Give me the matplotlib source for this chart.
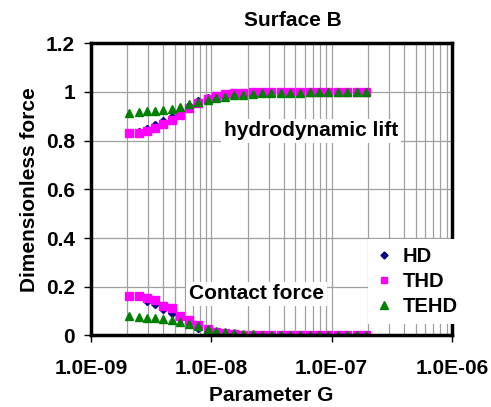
import matplotlib
matplotlib.use("Agg")
import matplotlib.pyplot as plt
from matplotlib.ticker import FuncFormatter, FixedLocator, LogLocator, NullFormatter

plt.rcParams['font.family'] = ['Liberation Sans', 'DejaVu Sans']
plt.rcParams['font.weight'] = 'bold'

# parameter G values
G = [2.08e-9, 2.52e-9, 2.94e-9, 3.39e-9, 4.00e-9, 4.69e-9, 5.50e-9, 6.54e-9, 7.81e-9,
     9.35e-9, 1.10e-8, 1.30e-8, 1.55e-8, 1.85e-8, 2.21e-8, 2.65e-8, 3.16e-8, 3.79e-8,
     4.52e-8, 5.48e-8, 6.55e-8, 7.84e-8, 9.37e-8, 1.13e-7, 1.34e-7, 1.62e-7, 1.94e-7]
x_ticks = [1e-9, 1e-8, 1e-7, 1e-6]

# hydrodynamic lift
hd_lift = [0.832, 0.836, 0.848, 0.862, 0.878, 0.896, 0.915, 0.940, 0.962, 0.975, 0.984,
           0.990, 0.993, 0.995, 0.997, 0.998, 0.999, 0.999, 1.0, 1.0, 1.0, 1.0, 1.0, 1.0,
           1.0, 1.0, 1.0]
thd_lift = [0.832, 0.832, 0.838, 0.850, 0.866, 0.886, 0.906, 0.932, 0.955, 0.972, 0.982,
            0.989, 0.993, 0.995, 0.997, 0.998, 0.999, 0.999, 1.0, 1.0, 1.0, 1.0, 1.0, 1.0,
            1.0, 1.0, 1.0]
tehd_lift = [0.912, 0.918, 0.921, 0.923, 0.926, 0.930, 0.937, 0.948, 0.957, 0.966, 0.975,
             0.980, 0.985, 0.988, 0.991, 0.993, 0.994, 0.995, 0.996, 0.996, 0.997, 0.997,
             0.997, 0.997, 0.997, 0.997, 0.997]

# contact force
hd_contact = [0.162, 0.160, 0.142, 0.129, 0.109, 0.091, 0.070, 0.051, 0.032, 0.020, 0.012,
              0.007, 0.004, 0.002, 0.001, 0.001, 0.0, 0.0, 0.0, 0.0, 0.0, 0.0, 0.0, 0.0,
              0.0, 0.0, 0.0]
thd_contact = [0.162, 0.160, 0.155, 0.145, 0.123, 0.111, 0.082, 0.062, 0.041, 0.026, 0.016,
               0.010, 0.006, 0.003, 0.002, 0.001, 0.0, 0.0, 0.0, 0.0, 0.0, 0.0, 0.0, 0.0,
               0.0, 0.0, 0.0]
tehd_contact = [0.080, 0.076, 0.071, 0.070, 0.068, 0.064, 0.057, 0.047, 0.037, 0.028, 0.020,
                0.014, 0.010, 0.007, 0.005, 0.004, 0.003, 0.002, 0.002, 0.001, 0.001, 0.001,
                0.001, 0.001, 0.001, 0.001, 0.001]

fig = plt.figure(figsize=(4.91, 4.07), dpi=100)
ax = fig.add_axes([0.1853, 0.1757, 0.7353, 0.7186])

hd_style = dict(ls='none', marker='D', ms=4.2, color='#000080')
thd_style = dict(ls='none', marker='s', ms=5.2, color='#ff00ff')
tehd_style = dict(ls='none', marker='^', ms=6, color='#008000')

ax.plot(G, hd_lift, label='HD', **hd_style)
ax.plot(G, hd_contact, **hd_style)
ax.plot(G, thd_lift, label='THD', **thd_style)
ax.plot(G, thd_contact, **thd_style)
ax.plot(G, tehd_lift, label='TEHD', **tehd_style)
ax.plot(G, tehd_contact, **tehd_style)

ax.set_xscale('log')
ax.set_xlim(1e-9, 1e-6)
ax.set_ylim(0, 1.2)
ax.set_yticks([0, 0.2, 0.4, 0.6, 0.8, 1.0, 1.2])
ax.yaxis.set_major_formatter(FuncFormatter(lambda v, p: '%g' % v))
ax.xaxis.set_major_locator(FixedLocator(x_ticks))
ax.xaxis.set_minor_locator(LogLocator(base=10, subs=range(2, 10), numticks=20))
ax.xaxis.set_major_formatter(FuncFormatter(lambda v, p: '%.1E' % v))
ax.xaxis.set_minor_formatter(NullFormatter())

ax.grid(True, which='major', axis='y', color='#a0a0a0', lw=0.9)
ax.grid(True, which='both', axis='x', color='#a0a0a0', lw=0.9)
ax.set_axisbelow(True)

for s in ax.spines.values():
    s.set_linewidth(2.5)
ax.tick_params(axis='both', which='major', direction='out', length=5, width=1,
               labelsize=15)
ax.tick_params(axis='x', which='major', pad=12)
ax.tick_params(axis='y', which='major', pad=6.5)
ax.tick_params(axis='x', which='minor', length=0)

ax.set_xlabel('Parameter G', fontsize=15, fontweight='bold', labelpad=6)
ax.set_ylabel('Dimensionless force', fontsize=15, fontweight='bold', labelpad=5)
ax.set_title('Surface B', fontsize=15, fontweight='bold', x=0.56, pad=12)

box = dict(facecolor='white', edgecolor='none', pad=2)
ax.text(0.61, 0.70, 'hydrodynamic lift', transform=ax.transAxes, fontsize=15,
        fontweight='bold', ha='center', va='center', bbox=box)
ax.text(0.459, 0.142, 'Contact force', transform=ax.transAxes, fontsize=15,
        fontweight='bold', ha='center', va='center', bbox=box)

leg = ax.legend(loc='center left', bbox_to_anchor=(0.74, 0.185), frameon=True,
                fancybox=False, edgecolor='none', framealpha=1, fontsize=14.5,
                handlelength=0.8, handletextpad=0.5, labelspacing=0.3,
                borderpad=0.4, markerscale=0.85)

fig.savefig('out.png', dpi=100)
